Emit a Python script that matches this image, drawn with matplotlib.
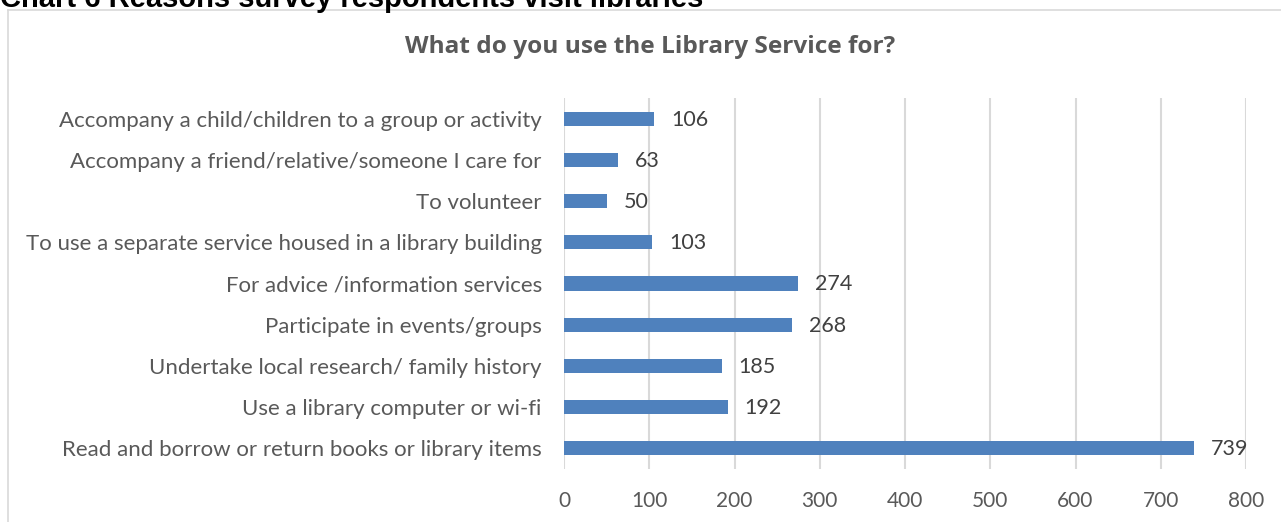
import matplotlib.pyplot as plt
from matplotlib.lines import Line2D

categories = [
    "Accompany a child/children to a group or activity",
    "Accompany a friend/relative/someone I care for",
    "To volunteer",
    "To use a separate service housed in a library building",
    "For advice /information services",
    "Participate in events/groups",
    "Undertake local research/ family history",
    "Use a library computer or wi-fi",
    "Read and borrow or return books or library items",
]
counts = [106, 63, 50, 103, 274, 268, 185, 192, 739]
x_ticks = [0, 100, 200, 300, 400, 500, 600, 700, 800]

W, H = 1281, 522
fig = plt.figure(figsize=(W / 100, H / 100), dpi=100)
fig.patch.set_facecolor("white")

grey = "#595959"
font = "Lato"

# Chart frame (light border)
fig.add_artist(Line2D([8 / W, 1], [1 - 10 / H, 1 - 10 / H], color="#d9d9d9", lw=1.2,
                      transform=fig.transFigure))
fig.add_artist(Line2D([8 / W, 8 / W], [0, 1 - 10 / H], color="#d9d9d9", lw=1.2,
                      transform=fig.transFigure))

# Document caption above the chart
fig.text(0 / W, 1 - 7 / H, "Chart 6 Reasons survey respondents visit libraries",
         ha="left", va="baseline", fontsize=21, fontweight="bold",
         family="Liberation Sans", color="black")

fig.text(650 / W, 1 - 47 / H, "What do you use the Library Service for?",
         ha="center", va="center", fontsize=17.6, fontweight="bold",
         family="Open Sans", color=grey)

ax = fig.add_axes([564 / W, 1 - 469 / H, (1246 - 564) / W, (469 - 98) / H])
ypos = list(range(len(categories)))
ax.barh(ypos, counts, height=0.34, color="#4f81bd", zorder=3)
ax.set_ylim(len(categories) - 0.5, -0.5)
ax.set_xlim(0, 800)
ax.set_xticks(x_ticks)
ax.set_xticklabels([str(t) for t in x_ticks], fontsize=15, family=font, color=grey)
ax.set_yticks(ypos)
ax.set_yticklabels(categories, fontsize=16, family=font, color=grey)
ax.tick_params(axis="both", length=0)
ax.tick_params(axis="x", pad=16)
ax.tick_params(axis="y", pad=16)
ax.grid(axis="x", color="#d9d9d9", lw=1.5, zorder=0)
for s in ax.spines.values():
    s.set_visible(False)

for y, v in zip(ypos, counts):
    ax.annotate(str(v), (v, y), xytext=(17, -1), textcoords="offset pixels",
                ha="left", va="center", fontsize=15.5, family=font, color="#404040")

fig.savefig("out.png", dpi=100)
